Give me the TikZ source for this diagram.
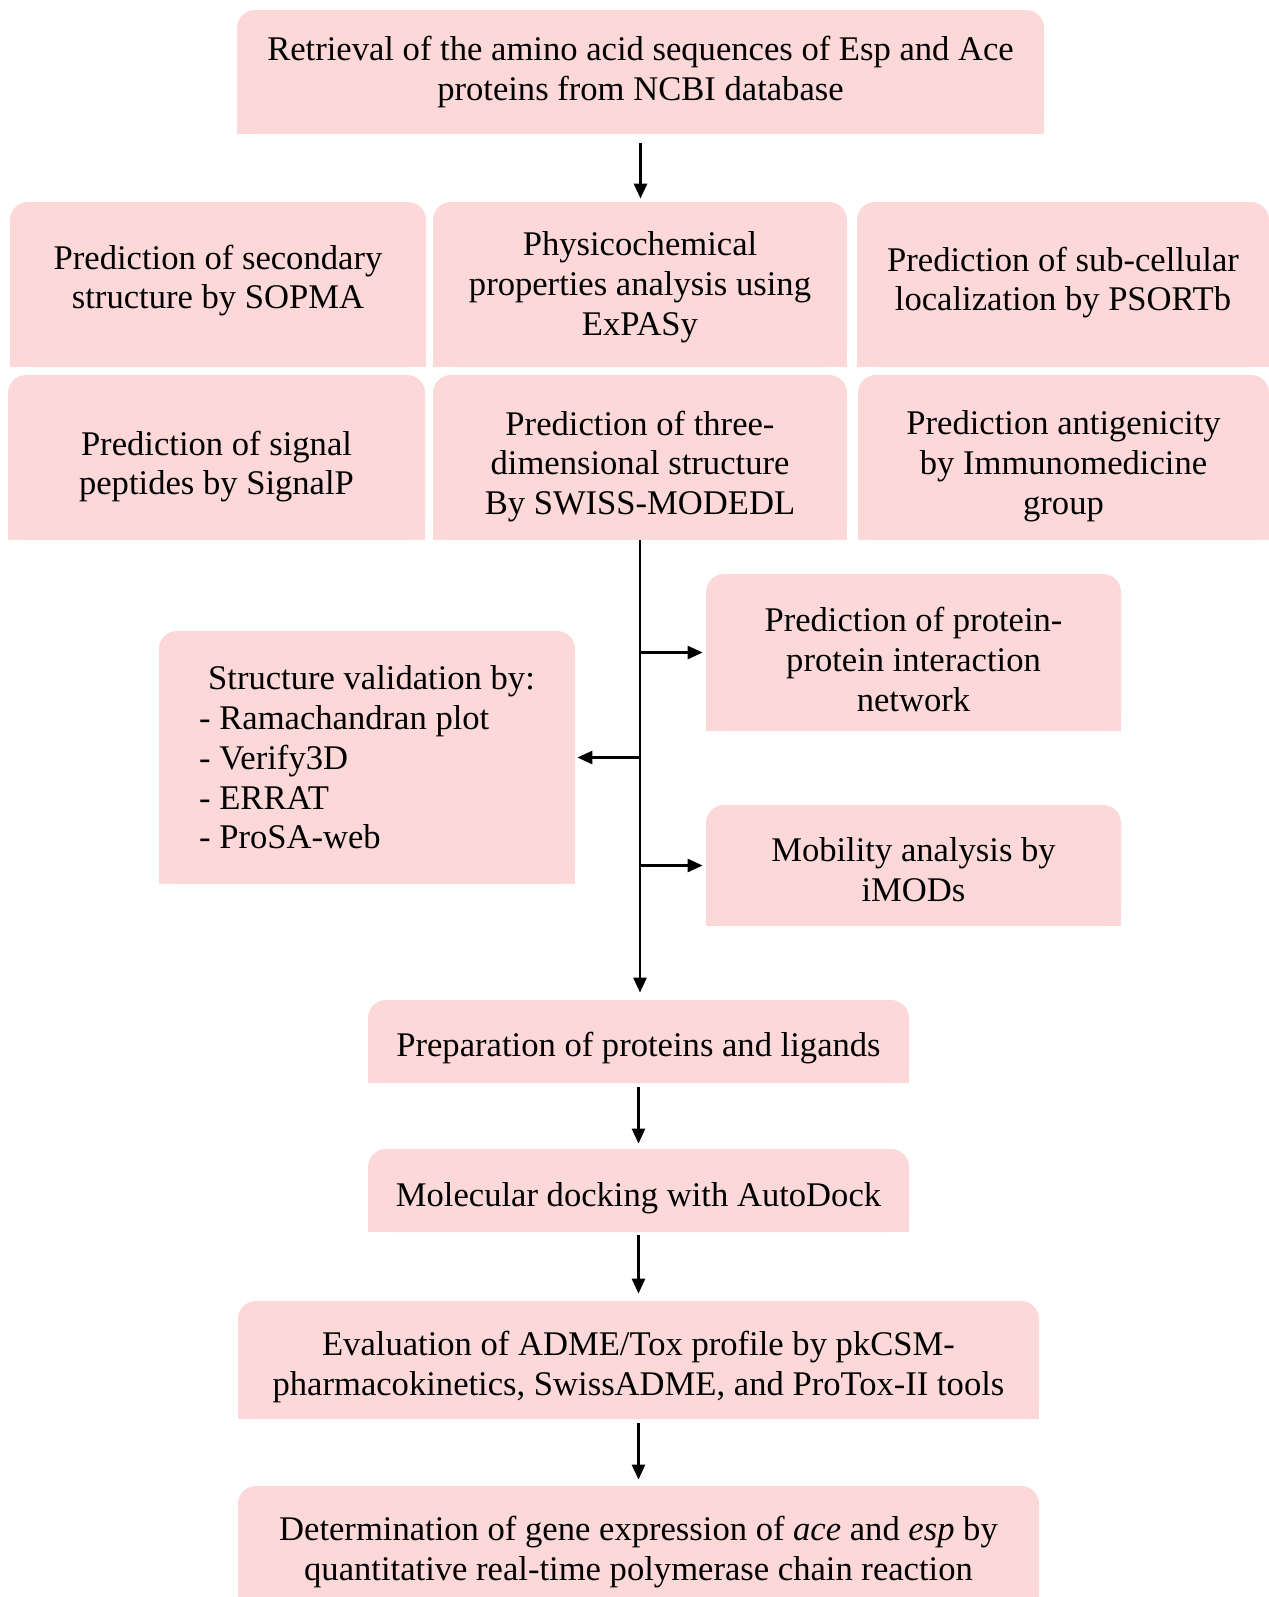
\documentclass[tikz,border=0pt]{standalone}
\usepackage{fontspec}
\setmainfont{Liberation Serif}
\usetikzlibrary{arrows.meta,backgrounds}
\definecolor{boxPink}{RGB}{252,216,217}
\tikzset{
    >={Triangle[length=7.5pt,width=6.5pt]},
    stage/.style={fill=boxPink,rounded corners=9pt,inner sep=0pt},
    caption/.style={align=center,inner sep=0pt,font=\fontsize{17.3}{19.9}\selectfont},
    flow/.style={->,line width=1.35pt,shorten <=2pt,shorten >=2.5pt}
}

\begin{document}
\begin{tikzpicture}[x=0.5pt,y=-0.5pt]
  \useasboundingbox (0,0) rectangle (1269,1597);

  \node[stage,minimum width=403.5pt,minimum height=62pt,label={[caption]center:{Retrieval of the amino acid sequences of Esp and Ace\\proteins from NCBI database}}] (retrieval) at (640.5,72) {};

  \node[stage,minimum width=208pt,minimum height=82.5pt,label={[caption,yshift=2pt]center:{Prediction of secondary\\structure by SOPMA}}] (sopma) at (218,284.5) {};
  \node[stage,minimum width=207pt,minimum height=82.5pt,label={[caption,yshift=-1.5pt]center:{Physicochemical\\properties analysis using\\ExPASy}}] (expasy) at (640,284.5) {};
  \node[stage,minimum width=206pt,minimum height=82.5pt,label={[caption,yshift=1pt]center:{Prediction of sub-cellular\\localization by PSORTb}}] (psortb) at (1063,284.5) {};
  \node[stage,minimum width=208.5pt,minimum height=82.5pt,label={[caption,yshift=-4.5pt]center:{Prediction of signal\\peptides by SignalP}}] (signalp) at (216.5,457.5) {};
  \node[stage,minimum width=207pt,minimum height=82.5pt,label={[caption,yshift=-4.5pt]center:{Prediction of three-\\dimensional structure\\By SWISS-MODEDL}}] (swiss) at (640,457.5) {};
  \node[stage,minimum width=205.5pt,minimum height=82.5pt,label={[caption,yshift=-4.5pt]center:{Prediction antigenicity\\by Immunomedicine\\group}}] (antigen) at (1063.5,457.5) {};

  \node[stage,minimum width=207.5pt,minimum height=78.5pt,label={[caption,yshift=-3.5pt]center:{Prediction of protein-\\protein interaction\\network}}] (ppi) at (913.5,652.5) {};
  \node[stage,minimum width=208pt,minimum height=126.5pt,label={[caption,align=left]center:{\hspace*{4.5pt}Structure validation by:\\- Ramachandran plot\\- Verify3D\\- ERRAT\\- ProSA-web}}] (validation) at (367,757.5) {};
  \node[stage,minimum width=207.5pt,minimum height=60.5pt,label={[caption,yshift=-2pt]center:{Mobility analysis by\\iMODs}}] (imods) at (913.5,865.5) {};

  \node[stage,minimum width=270.5pt,minimum height=41.5pt,label={[caption,yshift=-3.5pt]center:{Preparation of proteins and ligands}}] (ligands) at (638.5,1041.5) {};
  \node[stage,minimum width=270.5pt,minimum height=41.5pt,label={[caption,yshift=-4pt]center:{Molecular docking with AutoDock}}] (docking) at (638.5,1190.5) {};
  \node[stage,minimum width=400.5pt,minimum height=59pt,label={[caption,yshift=-3.5pt]center:{Evaluation of ADME/Tox profile by pkCSM-\\pharmacokinetics, SwissADME, and ProTox-II tools}}] (adme) at (638.5,1360) {};
  \node[stage,minimum width=400.5pt,minimum height=63pt,label={[caption,yshift=-1.5pt]center:{Determination of gene expression of \textit{ace} and \textit{esp} by\\quantitative real-time polymerase chain reaction}}] (qpcr) at (638.5,1549) {};

  % square off the lower corners
  \begin{scope}[on background layer]
    \foreach \b in {retrieval,sopma,expasy,psortb,signalp,swiss,antigen,ppi,validation,imods,ligands,docking,adme,qpcr}
      \fill[boxPink] (\b.south west) rectangle (\b.east);
  \end{scope}

  \draw[flow,shorten <=4.5pt,shorten >=1.5pt] (retrieval.south) -- (retrieval.south |- expasy.north);
  \draw[flow,shorten <=0pt,shorten >=3.5pt] (swiss.south) -- (swiss.south |- ligands.north);
  \draw[flow,shorten <=0pt,shorten >=1.5pt] (swiss.south |- ppi.west) -- (ppi.west);
  \draw[flow,shorten <=0pt,shorten >=1pt] (swiss.south |- validation.east) -- (validation.east);
  \draw[flow,shorten <=0pt,shorten >=1.5pt] (swiss.south |- imods.west) -- (imods.west);
  \draw[flow] (ligands) -- (docking);
  \draw[flow,shorten <=1.5pt,shorten >=3.5pt] (docking) -- (adme);
  \draw[flow,shorten >=3pt] (adme) -- (qpcr);
\end{tikzpicture}
\end{document}
